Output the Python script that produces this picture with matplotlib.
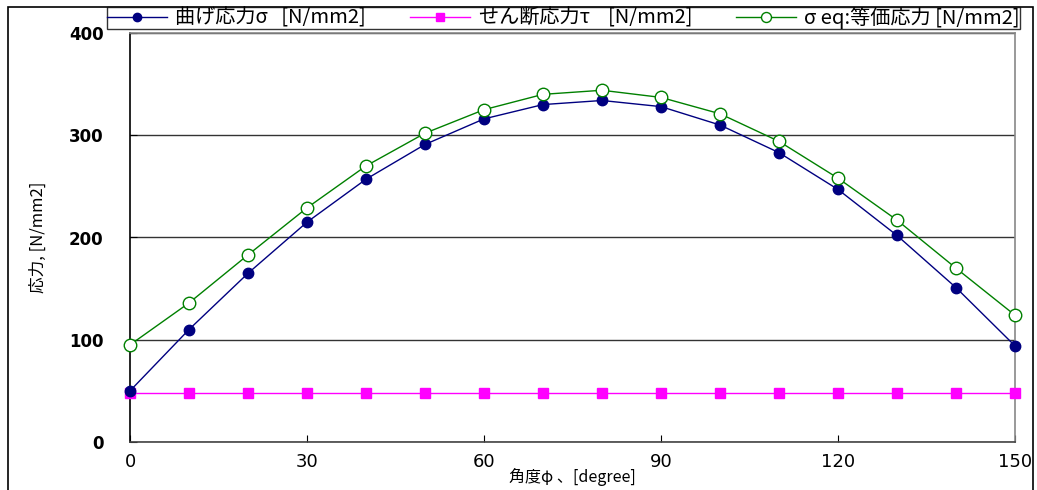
import matplotlib
matplotlib.use("Agg")
import matplotlib.pyplot as plt
from matplotlib.patches import Rectangle

plt.rcParams['font.family'] = ['Noto Sans CJK JP', 'DejaVu Sans']

# angle [degree]
angle = [0, 10, 20, 30, 40, 50, 60, 70, 80, 90, 100, 110, 120, 130, 140, 150]
# bending stress sigma
sigma = [50, 110, 165, 215, 257, 291, 316, 330, 334, 328, 310, 283, 247, 202, 151, 94]
# shear stress tau
tau = [47.5] * 16
# equivalent stress
sigma_eq = [95, 136, 183, 229, 270, 302, 325, 340, 344, 337, 321, 294, 258, 217, 170, 124]

labels = ['曲げ応力σ   [N/mm2]', 'せん断応力τ    [N/mm2]', 'σ eq:等価応力 [N/mm2]']

W, H = 1037, 490
fig = plt.figure(figsize=(W / 100, H / 100), dpi=100)
ax = fig.add_axes([130 / W, 1 - 442 / H, (1015 - 130) / W, (442 - 33) / H])

ax.plot(angle, sigma, color="#000080", lw=1, marker="o", ms=7.5,
        mfc="#000080", mec="#000080", label=labels[0], zorder=4, clip_on=False)
ax.plot(angle, tau, color="#ff00ff", lw=1, marker="s", ms=7,
        mfc="#ff00ff", mec="#ff00ff", label=labels[1], zorder=3, clip_on=False)
ax.plot(angle, sigma_eq, color="#008000", lw=1, marker="o", ms=9,
        mfc="white", mec="#008000", label=labels[2], zorder=5, clip_on=False)

ax.set_xlim(0, 150)
ax.set_ylim(0, 400)
ax.set_xticks(range(0, 151, 30))
ax.set_yticks(range(0, 401, 100))
ax.yaxis.grid(True, color="#333333", lw=1)
ax.set_axisbelow(True)

for s in ["top", "right"]:
    ax.spines[s].set_color("#888888")
ax.spines["left"].set_color("black")
ax.spines["bottom"].set_color("#444444")
for s in ax.spines.values():
    s.set_linewidth(1.2)

ax.tick_params(axis="x", direction="in", length=5, pad=8, labelsize=12)
ax.tick_params(axis="y", direction="in", length=5, pad=19, labelsize=12)
for t in ax.get_yticklabels():
    t.set_fontweight("bold")
    t.set_family(["DejaVu Sans"])
for t in ax.get_xticklabels():
    t.set_family(["Liberation Sans Narrow", "DejaVu Sans"])
    t.set_fontsize(13)

ax.set_xlabel("角度φ 、[degree]", fontsize=11.5, labelpad=-2)
ax.set_ylabel("応力, [N/mm2]", fontsize=12, labelpad=16)

# outer frame
fig.patches.append(Rectangle((8 / W, -0.1), (1033 - 8) / W, 1.1 - 7 / H,
                             transform=fig.transFigure, fill=False,
                             edgecolor="black", lw=1.2))

leg = fig.legend(loc="upper left",
                 bbox_to_anchor=(107 / W, 1 - 30 / H, (1020 - 107) / W, 23 / H),
                 mode="expand", ncol=3, fontsize=14.5, frameon=True, fancybox=False,
                 handlelength=3.0, handletextpad=0.4, borderpad=0.0,
                 columnspacing=0.4, borderaxespad=0, markerscale=0.8)
leg.get_frame().set_edgecolor("black")
leg.get_frame().set_linewidth(1)

fig.savefig("out.png", dpi=100)
